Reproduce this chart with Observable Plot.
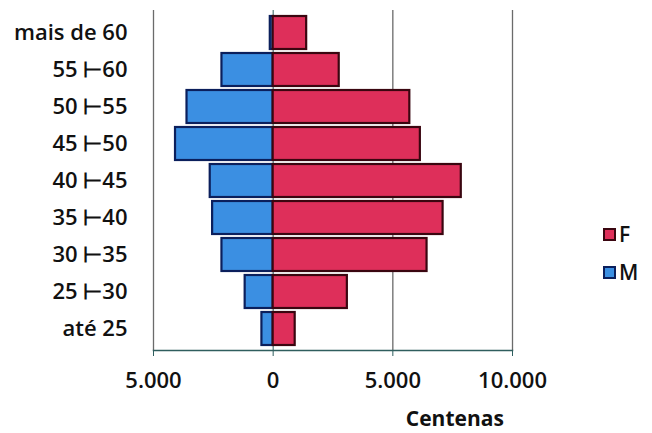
<!DOCTYPE html>
<html>
<head>
<meta charset="utf-8">
<script src="https://cdn.jsdelivr.net/npm/d3@7"></script>
<script src="https://cdn.jsdelivr.net/npm/@observablehq/plot@0.6"></script>
<style>
  html, body { margin: 0; padding: 0; background: #fff; }
  #wrap { position: relative; width: 652px; height: 433px; overflow: hidden; font-family: "Open Sans", Lato, sans-serif; }
  #legend { position: absolute; left: 603px; top: 215px; font-size: 21px; font-weight: 600; color: #111; }
  #legend .item { display: flex; align-items: center; height: 38px; }
  #legend .sw { width: 9px; height: 9px; border: 2px solid; margin-right: 3px; }
</style>
</head>
<body>
<div id="wrap"><div id="legend"></div></div>
<script>
const categories = ["mais de 60", "55 ⊢60", "50 ⊢55", "45 ⊢50", "40 ⊢45", "35 ⊢40", "30 ⊢35", "25 ⊢30", "até 25"];
const femaleValues = [1400, 2760, 5710, 6150, 7860, 7100, 6430, 3100, 920];
const maleValues = [120, 2140, 3600, 4080, 2630, 2530, 2140, 1170, 470];
const xTicks = [-5000, 0, 5000, 10000];
const series = ["F", "M"];
const fillColors = ["#de2f5a", "#3b8fe2"];
const strokeColors = ["#3a0610", "#0b1f5c"];
const axisTitle = "Centenas";

const rows = [];
categories.forEach((c, i) => {
  rows.push({cat: c, sex: "M", value: -maleValues[i]});
  rows.push({cat: c, sex: "F", value: femaleValues[i]});
});

const fmt = d => d3.format(",")(Math.abs(d)).replace(/,/g, ".");

const chart = Plot.plot({
  width: 652,
  height: 433,
  marginLeft: 153,
  marginRight: 140,
  marginTop: 10,
  marginBottom: 83,
  style: {fontFamily: "'Open Sans', Lato, sans-serif", fontSize: "22px", fontWeight: 600, color: "#111", background: "transparent"},
  x: {domain: [-5000, 10000], ticks: xTicks, tickFormat: fmt, label: null},
  y: {domain: categories, paddingInner: 0.12, paddingOuter: 0.06, label: null},
  color: {domain: series, range: fillColors},
  marks: [
    Plot.ruleX(xTicks.filter(d => d !== 0), {stroke: "#6b6b6b", strokeWidth: 1.3, strokeOpacity: 1}),
    Plot.ruleX([0], {stroke: "#2f5e5e"}),
    Plot.barX(rows, {
      x: "value", y: "cat", fill: "sex",
      stroke: d => strokeColors[series.indexOf(d.sex)],
      strokeWidth: 2.2
    }),
    Plot.frame({anchor: "bottom", stroke: "#2f5e5e", strokeWidth: 1.5}),
    Plot.axisX({ticks: xTicks, tickFormat: fmt, tickSize: 6, tickPadding: 16, fontSize: 22, fontWeight: 600, stroke: "#2f5e5e"}),
    Plot.axisY({tickSize: 0, tickPadding: 26, fontSize: 22, fontWeight: 600, textAnchor: "end"}),
    Plot.text([{x: 5000}], {x: "x", frameAnchor: "bottom", dx: 62, dy: 75, text: () => axisTitle, fontWeight: "bold", fontSize: 21})
  ]
});

document.getElementById("wrap").prepend(chart);
chart.style.position = "absolute";
chart.style.left = "0";
chart.style.top = "0";

const legend = d3.select("#legend");
series.forEach((s, i) => {
  const item = legend.append("div").attr("class", "item");
  item.append("div").attr("class", "sw").style("background", fillColors[i]).style("border-color", strokeColors[i]);
  item.append("span").text(s);
});
</script>
</body>
</html>
